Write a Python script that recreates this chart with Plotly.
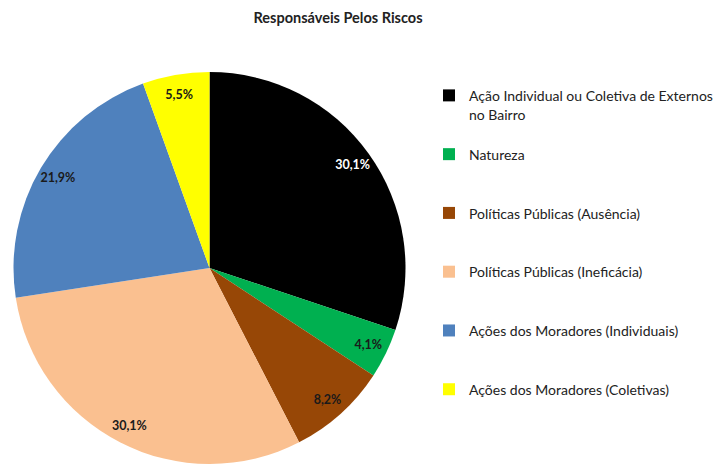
import plotly.graph_objects as go

categories = [
    "Ação Individual ou Coletiva de Externos<br>no Bairro",
    "Natureza",
    "Políticas Públicas (Ausência)",
    "Políticas Públicas (Ineficácia)",
    "Ações dos Moradores (Individuais)",
    "Ações dos Moradores (Coletivas)",
]
values = [30.1, 4.1, 8.2, 30.1, 21.9, 5.5]
colors = ["#000000", "#00B050", "#974706", "#FAC090", "#4F81BD", "#FFFF00"]
label_colors = ["#FFFFFF", "#1a1a1a", "#1a1a1a", "#1a1a1a", "#1a1a1a", "#1a1a1a"]
title_text = "Responsáveis Pelos Riscos"

FONT = "Lato, 'Open Sans', sans-serif"
NB = "\u00a0"

# the page body has an 8px default margin, so the figure is 8px smaller
W, H = 716, 456


def legend_label(lbl):
    parts = lbl.split("<br>")
    parts = [f"<span style='font-size:14px'>{p}</span>" for p in parts]
    if len(parts) == 1:
        parts = [NB] + parts + [NB]
    else:
        parts = [NB] + parts
    return "<br>".join(parts)


legend_labels = [legend_label(c) for c in categories]
pct_text = [f"{v:.1f}".replace(".", ",") + "%" for v in values]

fig = go.Figure()
domain = dict(x=[4 / W, 399 / W], y=[0.0, 1 - 64 / H])

fig.add_trace(go.Pie(
    labels=legend_labels,
    values=values,
    sort=False,
    direction="clockwise",
    rotation=0,
    marker=dict(colors=colors, line=dict(width=0)),
    textinfo="none",
    hoverinfo="label+percent",
    domain=domain,
    showlegend=True,
))

# transparent ring carrying the data labels near the rim
fig.add_trace(go.Pie(
    labels=legend_labels,
    values=values,
    sort=False,
    direction="clockwise",
    rotation=0,
    hole=0.8,
    marker=dict(colors=["rgba(0,0,0,0)"] * len(values), line=dict(width=0)),
    text=pct_text,
    textinfo="text",
    textposition="inside",
    insidetextorientation="horizontal",
    textfont=dict(family=FONT, size=12.5, color=label_colors, weight="bold"),
    hoverinfo="skip",
    domain=domain,
    showlegend=False,
))

fig.update_layout(
    width=W,
    height=H,
    margin=dict(l=0, r=0, t=0, b=0),
    paper_bgcolor="white",
    plot_bgcolor="white",
    font=dict(family=FONT, color="#222222"),
    title=dict(
        text=f"<b>{title_text}</b>",
        x=330 / W, xref="container", xanchor="center",
        y=1 - 10 / H, yref="container", yanchor="middle",
        font=dict(family=FONT, size=14.5, color="#222222"),
    ),
    legend=dict(
        x=421 / W, xanchor="left",
        y=1 - 53 / H, yanchor="top",
        font=dict(family=FONT, size=14.3, color="#222222"),
        tracegroupgap=0,
        bgcolor="rgba(0,0,0,0)",
    ),
    showlegend=True,
)

fig.write_html("out.html")
